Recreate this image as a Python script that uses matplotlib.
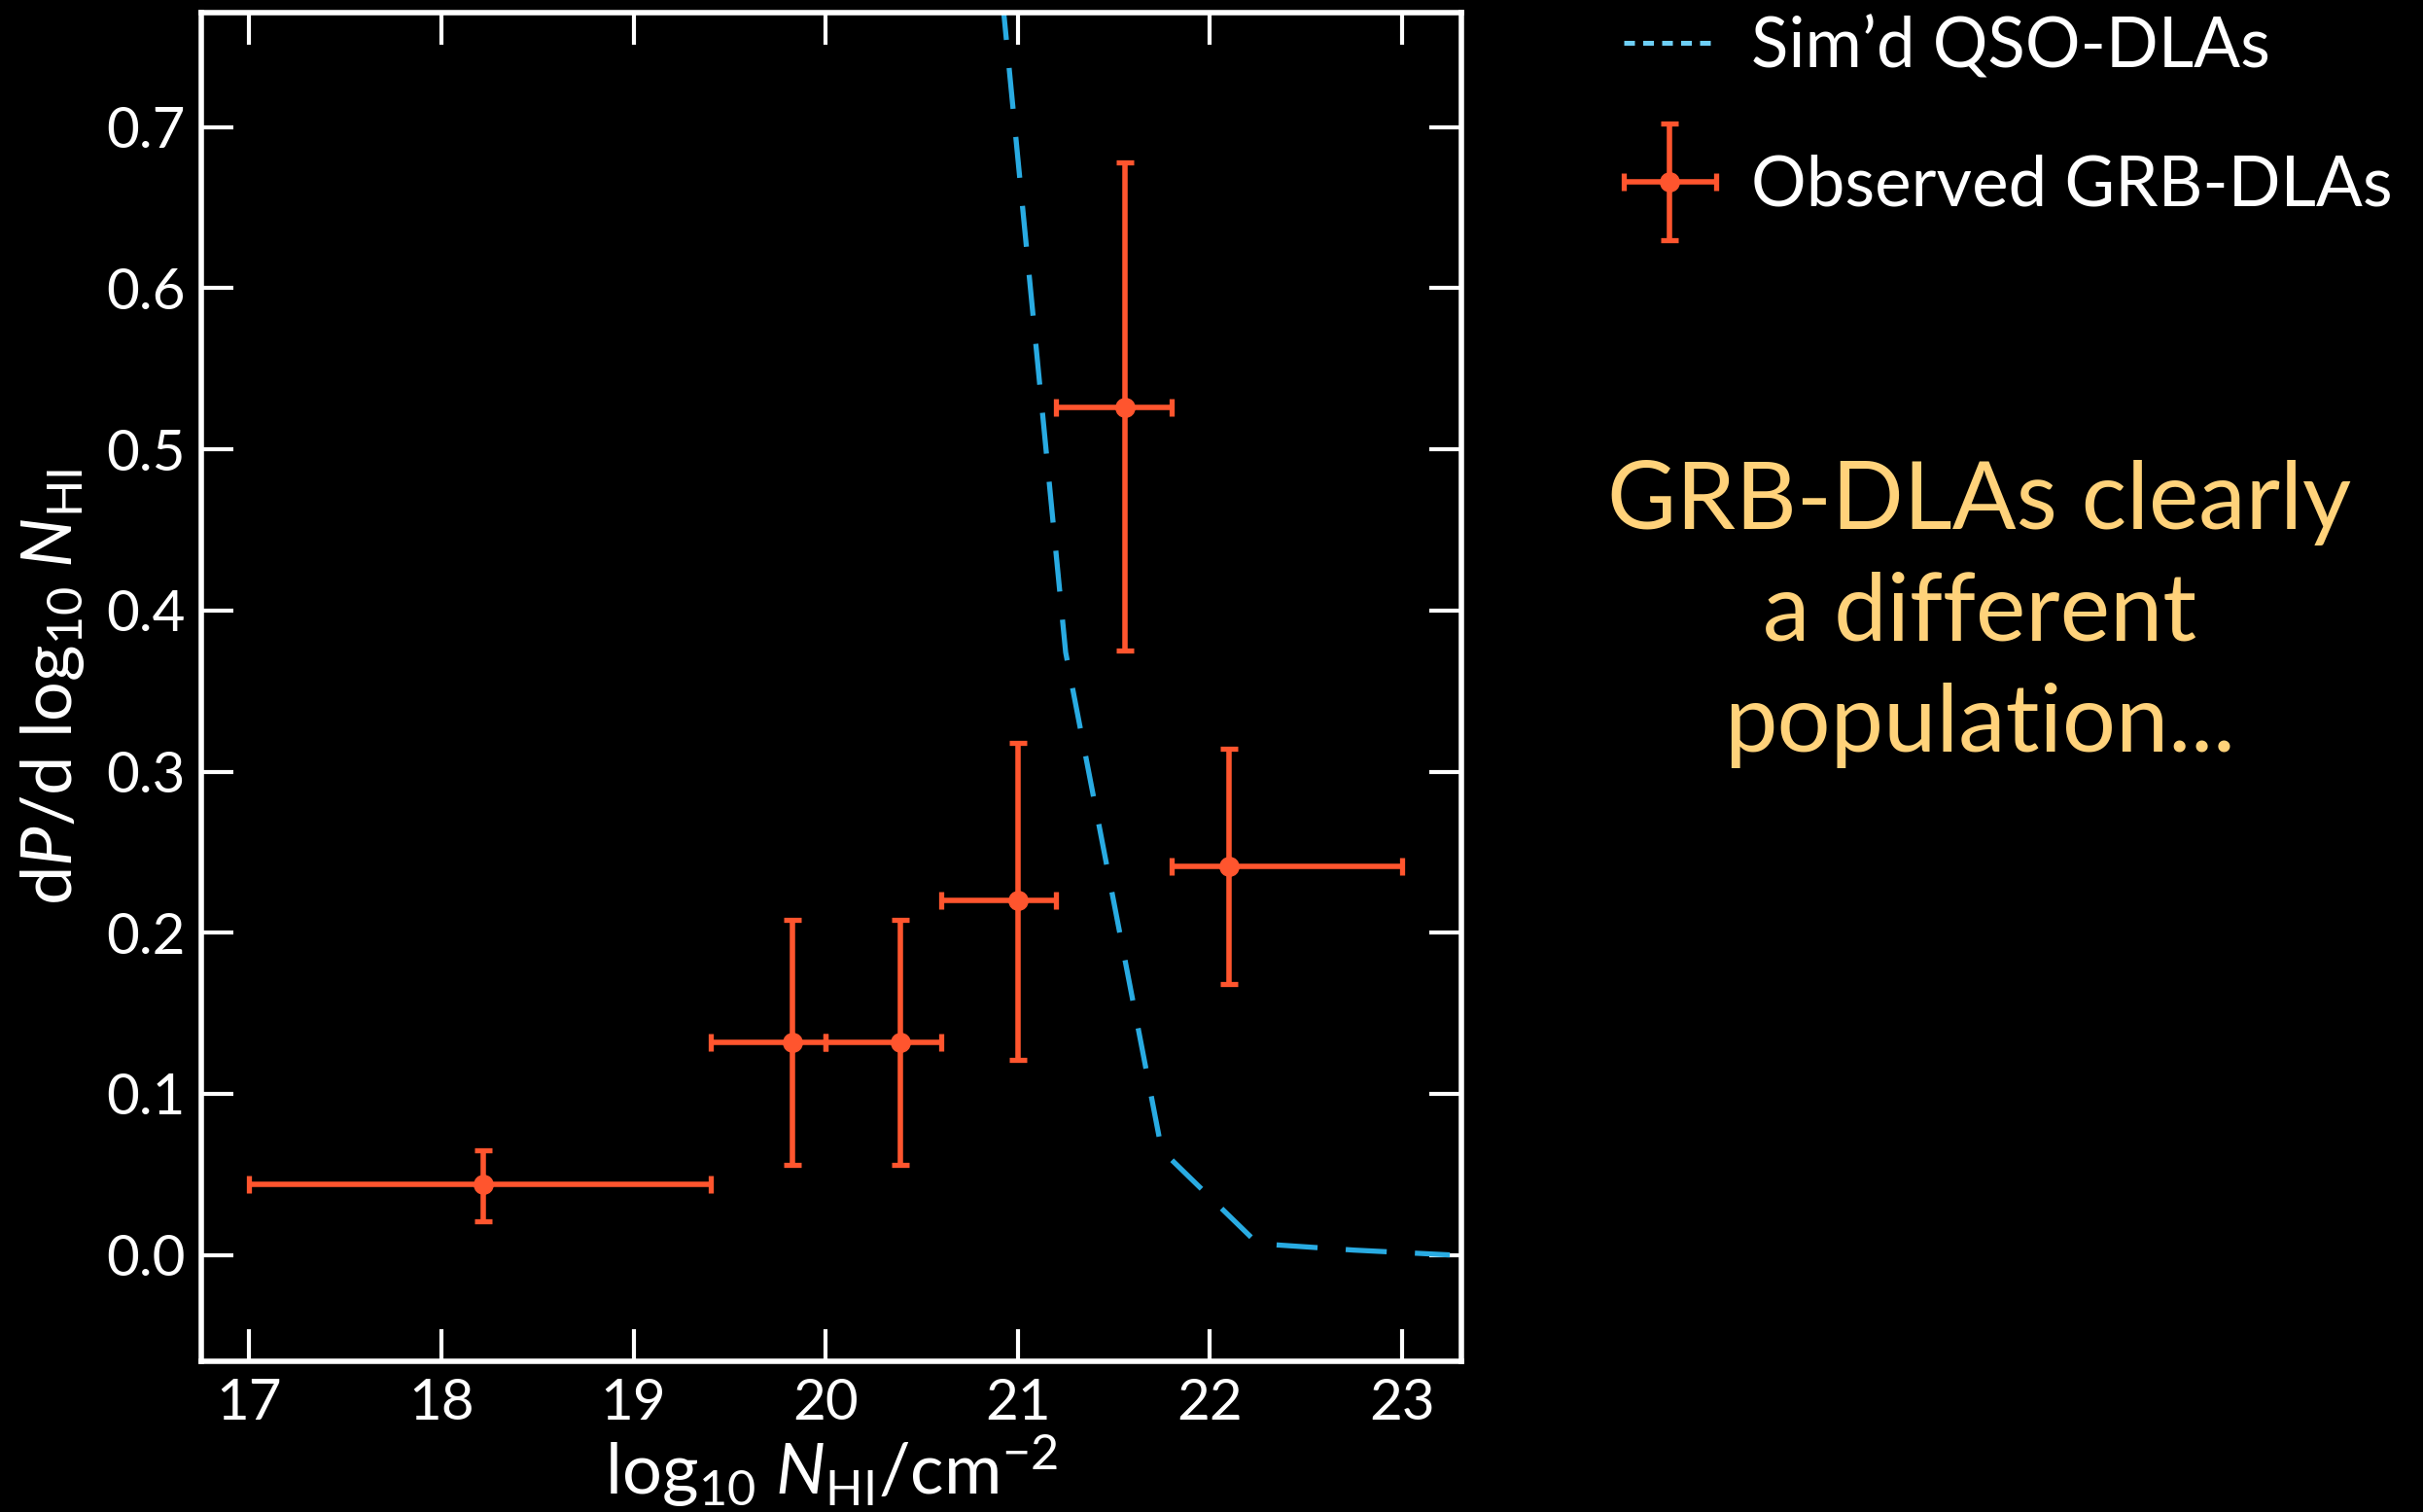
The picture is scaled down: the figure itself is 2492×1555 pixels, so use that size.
"""
Column density distribution: simulated QSO-DLAs vs observed GRB-DLAs.
"""
import numpy as np
import matplotlib
matplotlib.use("Agg")
import matplotlib.pyplot as plt
from matplotlib.lines import Line2D
from matplotlib.legend_handler import HandlerErrorbar

plt.rcParams['font.family'] = ['Lato', 'DejaVu Sans']
plt.rcParams['mathtext.fontset'] = 'custom'
plt.rcParams['mathtext.rm'] = 'Lato'
plt.rcParams['mathtext.it'] = 'Lato:italic'

# simulated QSO-DLA distribution (dashed curve)
sim_logn = [20.75, 21.25, 21.75, 22.25, 22.75, 23.25]
sim_dpdn = [0.99, 0.374, 0.065, 0.007, 0.003, 0.0]

# observed GRB-DLAs, binned
grb_logn = np.array([18.22, 19.83, 20.39, 21.00, 21.56, 22.10])
grb_dpdn = np.array([0.044, 0.132, 0.132, 0.220, 0.526, 0.241])
bin_lo = np.array([17.0, 19.4, 20.0, 20.6, 21.2, 21.8])
bin_hi = np.array([19.4, 20.0, 20.6, 21.2, 21.8, 23.0])
err_lo = np.array([0.021, 0.056, 0.056, 0.121, 0.375, 0.168])
err_hi = np.array([0.065, 0.208, 0.208, 0.318, 0.678, 0.314])

xticks = [17, 18, 19, 20, 21, 22, 23]
yticks = [0.0, 0.1, 0.2, 0.3, 0.4, 0.5, 0.6, 0.7]

note_lines = ["GRB-DLAs clearly", "a different", "population..."]

BLUE = '#29abe2'
ORANGE = '#ff552e'
YELLOW = '#ffd27a'

fig = plt.figure(figsize=(24.92, 15.55), dpi=100, facecolor='black')
ax = fig.add_axes([0.0831, 0.0997, 0.520, 0.8919], facecolor='black')

ax.plot(sim_logn, sim_dpdn, color=BLUE, lw=3.8, dashes=(8, 5.5))

eb = ax.errorbar(grb_logn, grb_dpdn,
                 xerr=[grb_logn - bin_lo, bin_hi - grb_logn],
                 yerr=[grb_dpdn - err_lo, err_hi - grb_dpdn],
                 fmt='o', color=ORANGE, ms=14, elinewidth=4,
                 capsize=6.5, capthick=3.8)

ax.set_xlim(16.75, 23.31)
ax.set_ylim(-0.066, 0.771)
ax.set_xticks(xticks)
ax.set_yticks(yticks)
ax.set_yticklabels([f"{v:.1f}" for v in yticks])

for side in ax.spines.values():
    side.set_color('white')
    side.set_linewidth(4)
ax.tick_params(which='major', direction='in', length=24, width=3,
               colors='white', labelsize=42, top=True, right=True, pad=12)

ax.set_xlabel(r'log$_{10}$ $N_{\mathrm{HI}}$/cm$^{-2}$', color='white',
              fontsize=52, labelpad=2)
ax.set_ylabel(r'd$P$/d log$_{10}$ $N_{\mathrm{HI}}$', color='white',
              fontsize=52, labelpad=14)

# legend
sim_handle = Line2D([], [], color='#6dcff6', lw=3.6, dashes=(2.2, 1.7))
leg = fig.legend([sim_handle, eb], ["Sim\u2019d QSO-DLAs", "Observed GRB-DLAs"],
                 loc='upper left', bbox_to_anchor=(0.670, 0.990),
                 frameon=False, fontsize=51, handlelength=1.35,
                 handletextpad=0.5, labelspacing=1.1, borderpad=0,
                 borderaxespad=0,
                 handler_map={type(eb): HandlerErrorbar(xerr_size=0.67,
                                                        yerr_size=0.85)})
for t in leg.get_texts():
    t.set_color('white')

# annotation on the right
for i, line in enumerate(note_lines):
    fig.text(0.817, 0.6502 - i * 0.0737, line, color=YELLOW, fontsize=70,
             ha='center', va='baseline')

fig.savefig('out.png', dpi=100, facecolor='black')
